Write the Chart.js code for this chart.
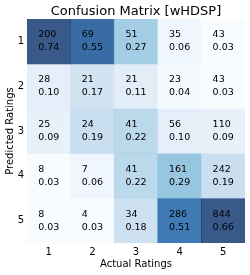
<!DOCTYPE html>
<html>
<head>
<meta charset="utf-8">
<script src="https://cdn.jsdelivr.net/npm/chart.js@4.4.1/dist/chart.umd.min.js"></script>
<style>
  html, body { margin: 0; padding: 0; background: #fff; }
  #wrap { width: 250px; height: 275px; }
</style>
</head>
<body>
<div id="wrap"><canvas id="grafico" width="250" height="275"></canvas></div>
<script>
// Etiquetas de los ejes
const actualLabels = ["1", "2", "3", "4", "5"];
const predictedLabels = ["1", "2", "3", "4", "5"];

// Conteos por fila (predicha) y columna (real)
const counts1 = [200, 69, 51, 35, 43];
const counts2 = [28, 21, 21, 23, 43];
const counts3 = [25, 24, 41, 56, 110];
const counts4 = [8, 7, 41, 161, 242];
const counts5 = [8, 4, 34, 286, 844];

// Fracciones normalizadas por columna
const frac1 = [0.74, 0.55, 0.27, 0.06, 0.03];
const frac2 = [0.10, 0.17, 0.11, 0.04, 0.03];
const frac3 = [0.09, 0.19, 0.22, 0.10, 0.09];
const frac4 = [0.03, 0.06, 0.22, 0.29, 0.19];
const frac5 = [0.03, 0.03, 0.18, 0.51, 0.66];

const counts = [counts1, counts2, counts3, counts4, counts5];
const fracs = [frac1, frac2, frac3, frac4, frac5];

// Mapa de color "Blues"
const blues = [
    [247, 251, 255], [222, 235, 247], [198, 219, 239], [158, 202, 225],
    [107, 174, 214], [66, 146, 198], [33, 113, 181], [8, 81, 156], [8, 48, 107]
];
const vmin = 0.03;
const vmax = 0.6;

function colorBlues(v) {
    let t = (v - vmin) / (vmax - vmin);
    t = Math.max(0, Math.min(1, t));
    const pos = t * (blues.length - 1);
    const i = Math.min(Math.floor(pos), blues.length - 2);
    const f = pos - i;
    const c = blues[i].map((a, k) => Math.round(a + (blues[i + 1][k] - a) * f));
    return `rgba(${c[0]}, ${c[1]}, ${c[2]}, 0.8)`;
}

// Cada fila es un dataset apilado de altura 1
const datasets = predictedLabels.map((lab, r) => ({
    label: lab,
    data: actualLabels.map(() => 1),
    backgroundColor: fracs[r].map(v => colorBlues(v)),
    borderWidth: 0,
    barPercentage: 1,
    categoryPercentage: 1
}));

const textoCeldas = {
    id: "textoCeldas",
    afterDatasetsDraw(chart) {
        const ctx = chart.ctx;
        ctx.save();
        ctx.font = "9.5px 'DejaVu Sans'";
        ctx.fillStyle = "#000";
        ctx.textBaseline = "middle";
        ctx.textAlign = "left";
        chart.data.datasets.forEach((ds, r) => {
            chart.getDatasetMeta(r).data.forEach((el, c) => {
                const l1 = String(counts[r][c]);
                const l2 = fracs[r][c].toFixed(2);
                const w = Math.max(ctx.measureText(l1).width, ctx.measureText(l2).width);
                const cy = (el.y + el.base) / 2;
                const x0 = el.x - w / 2;
                ctx.fillText(l1, x0, cy - 6.5);
                ctx.fillText(l2, x0, cy + 6.5);
            });
        });
        ctx.restore();
    }
};

new Chart(document.querySelector("#grafico"), {
    type: "bar",
    data: { labels: actualLabels, datasets: datasets },
    options: {
        responsive: false,
        animation: false,
        layout: { padding: { left: 0, right: 5, top: 0, bottom: 0 } },
        plugins: {
            legend: { display: false },
            tooltip: { enabled: false },
            title: {
                display: true,
                text: "Confusion Matrix [wHDSP]",
                fullSize: false,
                color: "#000",
                font: { family: "DejaVu Sans", size: 13, weight: "normal" },
                padding: { top: 3.5, bottom: 0 }
            }
        },
        scales: {
            x: {
                stacked: true,
                grid: { display: false, drawTicks: false },
                border: { display: false },
                ticks: { color: "#000", font: { family: "DejaVu Sans", size: 10 }, padding: 3, maxRotation: 0 },
                title: {
                    display: true,
                    text: "Actual Ratings",
                    color: "#000",
                    font: { family: "DejaVu Sans", size: 10 },
                    padding: { top: 0, bottom: 5 }
                },
                afterFit: (scale) => { scale.height = 32; }
            },
            y: {
                stacked: true,
                reverse: true,
                min: 0,
                max: 5,
                grid: { display: false, drawTicks: false },
                border: { display: false },
                afterBuildTicks: (axis) => {
                    axis.ticks = predictedLabels.map((l, i) => ({ value: i + 0.5 }));
                },
                ticks: {
                    color: "#000",
                    font: { family: "DejaVu Sans", size: 10 },
                    padding: 3,
                    callback: (v, i) => predictedLabels[i]
                },
                title: {
                    display: true,
                    text: "Predicted Ratings",
                    color: "#000",
                    font: { family: "DejaVu Sans", size: 10 },
                    padding: { top: 4, bottom: 0 }
                },
                afterFit: (scale) => { scale.width = 27; }
            }
        }
    },
    plugins: [textoCeldas]
});
</script>
</body>
</html>
